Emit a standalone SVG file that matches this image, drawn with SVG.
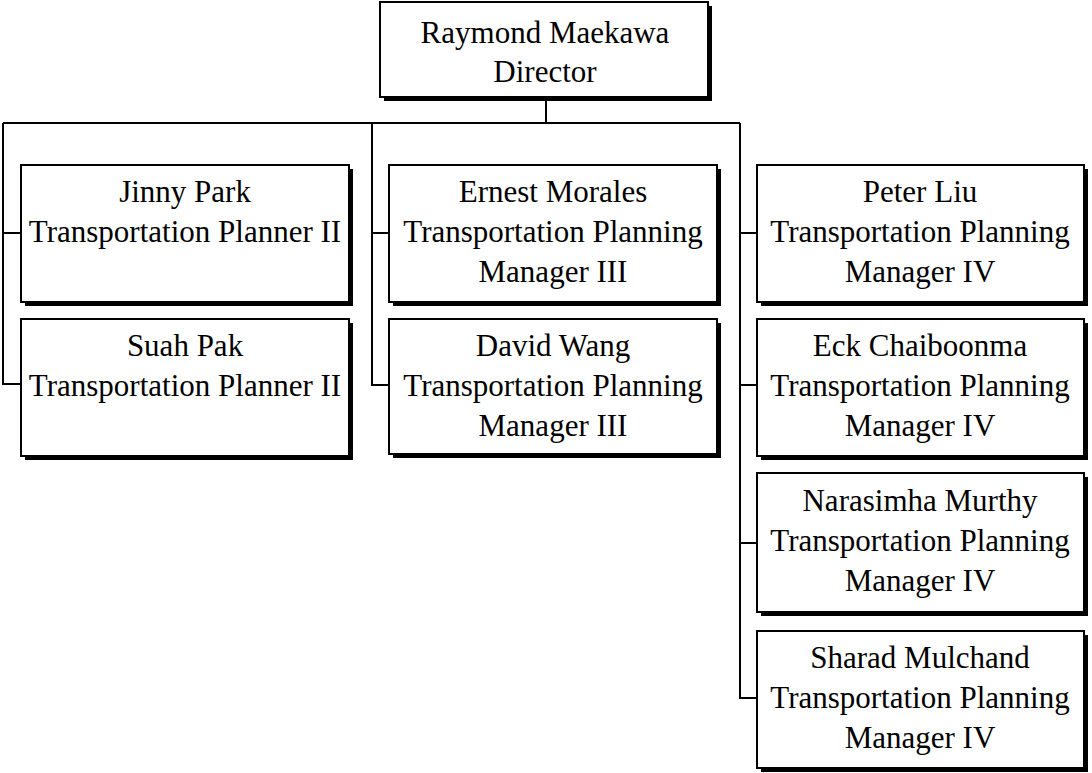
<svg xmlns="http://www.w3.org/2000/svg" width="1092" height="773" viewBox="0 0 1092 773">
<style>
.sh{fill:#000}
.bx{fill:#fff;stroke:#000;stroke-width:2}
.t{font-family:"Liberation Serif","Times New Roman",serif;font-size:31px;fill:#000;text-anchor:middle}
.c{fill:none;stroke:#000;stroke-width:2}
</style>
<rect width="1092" height="773" fill="#fff"/>
<g id="connectors">
<path class="c" d="M546,99V123M3,123H740M3,123V384H21M3,233H21M372,123V385H389M372,233H389M740,123V698H757M740,233H757M740,385H757M740,543H757"/>
</g>
<g id="n-raymond">
<rect class="sh" x="384" y="6" width="328" height="95"/>
<rect class="bx" x="380" y="2" width="328" height="95"/>
<text class="t" x="545" y="43">Raymond Maekawa</text>
<text class="t" x="545" y="82">Director</text>
</g>
<g id="n-jinny">
<rect class="sh" x="25" y="169" width="328" height="137"/>
<rect class="bx" x="21" y="165" width="328" height="137"/>
<text class="t" x="185" y="202">Jinny Park</text>
<text class="t" x="185" y="242">Transportation Planner II</text>
</g>
<g id="n-suah">
<rect class="sh" x="25" y="323" width="328" height="137"/>
<rect class="bx" x="21" y="319" width="328" height="137"/>
<text class="t" x="185" y="356">Suah Pak</text>
<text class="t" x="185" y="396">Transportation Planner II</text>
</g>
<g id="n-ernest">
<rect class="sh" x="393" y="169" width="328" height="137"/>
<rect class="bx" x="389" y="165" width="328" height="137"/>
<text class="t" x="553" y="202">Ernest Morales</text>
<text class="t" x="553" y="242">Transportation Planning</text>
<text class="t" x="553" y="282">Manager III</text>
</g>
<g id="n-david">
<rect class="sh" x="393" y="323" width="328" height="135"/>
<rect class="bx" x="389" y="319" width="328" height="135"/>
<text class="t" x="553" y="356">David Wang</text>
<text class="t" x="553" y="396">Transportation Planning</text>
<text class="t" x="553" y="436">Manager III</text>
</g>
<g id="n-peter">
<rect class="sh" x="761" y="169" width="327" height="137"/>
<rect class="bx" x="757" y="165" width="327" height="137"/>
<text class="t" x="920" y="202">Peter Liu</text>
<text class="t" x="920" y="242">Transportation Planning</text>
<text class="t" x="920" y="282">Manager IV</text>
</g>
<g id="n-eck">
<rect class="sh" x="761" y="323" width="327" height="137"/>
<rect class="bx" x="757" y="319" width="327" height="137"/>
<text class="t" x="920" y="356">Eck Chaiboonma</text>
<text class="t" x="920" y="396">Transportation Planning</text>
<text class="t" x="920" y="436">Manager IV</text>
</g>
<g id="n-narasimha">
<rect class="sh" x="761" y="477" width="327" height="139"/>
<rect class="bx" x="757" y="473" width="327" height="139"/>
<text class="t" x="920" y="511">Narasimha Murthy</text>
<text class="t" x="920" y="551">Transportation Planning</text>
<text class="t" x="920" y="591">Manager IV</text>
</g>
<g id="n-sharad">
<rect class="sh" x="761" y="635" width="327" height="137"/>
<rect class="bx" x="757" y="631" width="327" height="137"/>
<text class="t" x="920" y="668">Sharad Mulchand</text>
<text class="t" x="920" y="708">Transportation Planning</text>
<text class="t" x="920" y="748">Manager IV</text>
</g>
</svg>
